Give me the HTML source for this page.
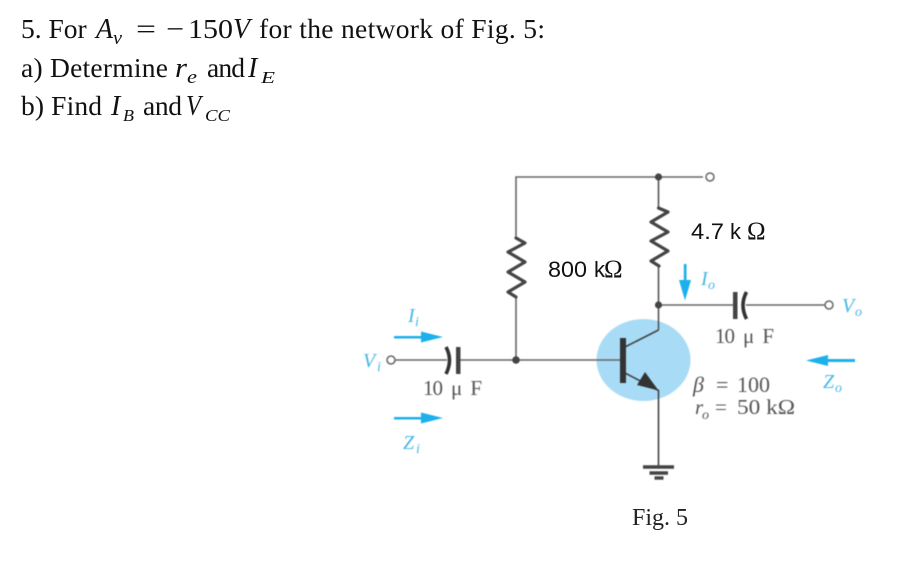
<!DOCTYPE html>
<html><head><meta charset="utf-8"><style>
html,body{margin:0;padding:0;background:#fff;width:908px;height:576px;overflow:hidden}
svg{display:block}
text{font-family:"Liberation Serif",serif}
.q{font-size:27.5px;fill:#111}
.m{font-size:28px;font-style:italic;fill:#111}
.s{font-size:19px;font-style:italic;fill:#111}
.c{font-size:21px;fill:#555}
.b{font-size:20px;font-style:italic;fill:#45b8e2}
.bs{font-size:14px;font-style:italic;fill:#45b8e2}
.sa{font-family:"Liberation Sans",sans-serif;font-size:22px;fill:#111}
.om{font-size:25px;fill:#111}
.soft{filter:blur(0.4px)}
</style></head><body>
<svg width="908" height="576" viewBox="0 0 908 576" xmlns="http://www.w3.org/2000/svg">
<rect width="908" height="576" fill="#fff"/>
<text class="q" x="21" y="38">5. For</text>
<text class="m" x="96" y="38" textLength="17" lengthAdjust="spacingAndGlyphs">A</text>
<text class="s" x="113" y="44" textLength="9" lengthAdjust="spacingAndGlyphs">v</text>
<text class="q" x="136" y="38" textLength="20" lengthAdjust="spacingAndGlyphs">=</text>
<text class="q" x="166" y="38" textLength="18" lengthAdjust="spacingAndGlyphs">−</text>
<text class="q" x="188" y="38" textLength="45" lengthAdjust="spacingAndGlyphs">150</text>
<text class="m" x="233" y="38" textLength="17" lengthAdjust="spacingAndGlyphs">V</text>
<text class="q" x="259" y="38" textLength="286">for the network of Fig. 5:</text>

<text class="q" x="21" y="77" textLength="147">a) Determine</text>
<text class="m" x="175" y="77" textLength="12" lengthAdjust="spacingAndGlyphs">r</text>
<text class="s" x="187" y="83" textLength="10" lengthAdjust="spacingAndGlyphs">e</text>
<text class="q" x="207" y="77" textLength="38">and</text>
<text class="m" x="248" y="77">I</text>
<text class="s" x="261" y="83" style="font-size:17px" textLength="14" lengthAdjust="spacingAndGlyphs">E</text>

<text class="q" x="21" y="115" textLength="81">b) Find</text>
<text class="m" x="111" y="115">I</text>
<text class="s" x="123" y="121" style="font-size:17px" textLength="11" lengthAdjust="spacingAndGlyphs">B</text>
<text class="q" x="143" y="115" textLength="39">and</text>
<text class="m" x="186" y="115" textLength="15" lengthAdjust="spacingAndGlyphs">V</text>
<text class="s" x="205" y="121" style="font-size:17px" textLength="25" lengthAdjust="spacingAndGlyphs">CC</text>

<g class="soft">
<ellipse cx="643.5" cy="360" rx="47" ry="41" fill="#a8dcf6"/>

<g fill="none" stroke="#666" stroke-width="1.6">
<path d="M516 238V177H703"/>
<path d="M658.5 177V208M658.5 267V330" stroke="#555"/>
<path d="M658.5 305H735M746 305H825"/>
<path d="M395 360H447M459 360H620"/>
<path d="M516 298V360"/>
</g>
<g fill="none" stroke="#444" stroke-width="1.6">
<path d="M658.5 330L625 347"/>
<path d="M625 373L658.5 390.5V466"/>
</g>
<g fill="none" stroke="#444" stroke-width="3.2" stroke-linejoin="round" stroke-linecap="round">
<path d="M516 238L525 243L508 252L525 262L508 272L525 282L508 292L516 297"/>
<path d="M658.5 208L668 212L651 222L668 232L651 241L668 251L651 261L659 266"/>
</g>
<rect x="620" y="338" width="6" height="45" fill="#333"/>
<path d="M658.5 390.5L637 385L645 372Z" fill="#333"/>
<circle cx="658.5" cy="177" r="3.6" fill="#444"/>
<circle cx="658.5" cy="305" r="3.6" fill="#444"/>
<circle cx="516" cy="360" r="3.8" fill="#444"/>
<circle cx="710" cy="177" r="4" fill="#fff" stroke="#666" stroke-width="1.5"/>
<circle cx="829" cy="305" r="4" fill="#fff" stroke="#666" stroke-width="1.5"/>
<circle cx="391" cy="360" r="4" fill="#fff" stroke="#666" stroke-width="1.5"/>

<rect x="456" y="347" width="4.5" height="27" fill="#444"/>
<path d="M446 347Q453 360 446 374" fill="none" stroke="#333" stroke-width="3.6"/>
<rect x="733" y="292" width="4.5" height="27" fill="#444"/>
<path d="M746.5 292Q739.5 305 746.5 319" fill="none" stroke="#333" stroke-width="3.6"/>

<path d="M643 467H674" stroke="#444" stroke-width="3.4"/>
<path d="M649.5 473H668" stroke="#444" stroke-width="3.4"/>
<path d="M654.5 478H663.5" stroke="#444" stroke-width="3.4"/>

<g fill="#1cb0ec" stroke="none">
<path d="M394 336H425V338.5H394Z"/><path d="M443 337L421 331.5V342.5Z"/>
<path d="M394 417H425V419.5H394Z"/><path d="M443 418L421 412.5V423.5Z"/>
<path d="M855 359H825V362H855Z"/><path d="M806 360.5L828 355V366Z"/>
<path d="M683.8 264H686.5V285H683.8Z"/><path d="M685 300.5L679 280H691Z"/>
</g>

<text class="b" x="408" y="322">I</text><text class="bs" x="415" y="326">i</text>
<text class="b" x="363" y="367">V</text><text class="bs" x="377" y="371">i</text>
<text class="b" x="403" y="449">Z</text><text class="bs" x="416" y="453">i</text>
<text class="b" x="701" y="285">I</text><text class="bs" x="708" y="289">o</text>
<text class="b" x="842" y="312">V</text><text class="bs" x="855" y="316">o</text>
<text class="b" x="823" y="388">Z</text><text class="bs" x="835" y="392">o</text>

<text class="c" x="423" y="395" textLength="20">10</text>
<text class="c" x="451" y="395" textLength="31">μF</text>
<text class="c" x="715" y="343" textLength="20">10</text>
<text class="c" x="743" y="343" textLength="31">μF</text>
<text class="c" x="693" y="392" style="font-size:22px;font-style:italic">β</text>
<text class="c" x="716" y="392" style="font-size:22px">=</text>
<text class="c" x="737" y="392" style="font-size:22px">100</text>
<text class="c" x="695" y="414" style="font-size:21px;font-style:italic">r</text>
<text class="bs" x="702" y="419" style="fill:#555">o</text>
<text class="c" x="715" y="414" style="font-size:21px">=</text>
<text class="c" x="737" y="414" style="font-size:21px" textLength="58" lengthAdjust="spacingAndGlyphs">50 kΩ</text>
</g>

<text class="sa" x="691" y="239" textLength="33" lengthAdjust="spacingAndGlyphs">4.7</text>
<text class="sa" x="730" y="239">k</text>
<text class="om" x="747" y="239">Ω</text>
<text class="sa" x="548" y="277" textLength="39" lengthAdjust="spacingAndGlyphs">800</text>
<text class="sa" x="594" y="277">k</text>
<text class="om" x="604" y="277">Ω</text>
<text x="632" y="525" style="font-size:24px;fill:#222">Fig. 5</text>
</svg>
</body></html>
